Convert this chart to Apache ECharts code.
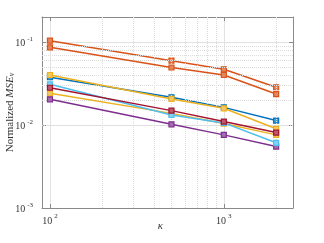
<!DOCTYPE html>
<html>
<head>
<meta charset="utf-8">
<script src="https://cdn.jsdelivr.net/npm/echarts@6/dist/echarts.min.js"></script>
<style>html,body{margin:0;padding:0;background:#fff;}#c{width:324px;height:243px;}</style>
</head>
<body>
<div id="c"></div>
<script>
// ---- data ----
var kappa = [100, 500, 1000, 2000];
var seriesNames = ['blue', 'orange1', 'orange2', 'yellow1', 'yellow2', 'purple', 'lightblue', 'darkred'];
var seriesColors = ['#0072BD', '#D95319', '#D95319', '#EDB120', '#EDB120', '#7E2F8E', '#4DBEEE', '#A2142F'];
var blue      = [0.0376, 0.0216, 0.0163, 0.0113];
var orange1   = [0.1036, 0.0595, 0.0469, 0.0285];
var orange2   = [0.0863, 0.0493, 0.0400, 0.0236];
var yellow1   = [0.0400, 0.0206, 0.0159, 0.0090];
var yellow2   = [0.0241, 0.0138, 0.0104, 0.0076];
var purple    = [0.0204, 0.0102, 0.0076, 0.0055];
var lightblue = [0.0309, 0.0132, 0.0106, 0.0061];
var darkred   = [0.0281, 0.0149, 0.0110, 0.0081];
var seriesValues = [blue, orange1, orange2, yellow1, yellow2, purple, lightblue, darkred];
var xMajorTicks = [100, 1000];
var yMajorTicks = [0.001, 0.01, 0.1];
var xMinorGrid = [200, 300, 400, 500, 600, 700, 800, 900, 2000];
var yMinorGrid = [0.002, 0.003, 0.004, 0.005, 0.006, 0.007, 0.008, 0.009,
                  0.02, 0.03, 0.04, 0.05, 0.06, 0.07, 0.08, 0.09];
var xRange = [90, 2500];
var yRange = [0.001, 0.2];

// ---- chart ----
var serif = 'Liberation Serif';
var axisColor = '#8a8a8a';
function expLabel(v) {
  var e = Math.round(Math.log10(v));
  return '{b|10}{s|' + (e < 0 ? '-' : '') + Math.abs(e) + '}';
}
var labelRich = {
  b: {fontFamily: serif, fontSize: 10, color: '#333', lineHeight: 13, verticalAlign: 'bottom'},
  s: {fontFamily: serif, fontSize: 7, color: '#333', lineHeight: 13, verticalAlign: 'top', padding: [0, 0, 0, 2]}
};
function isMajor(list, v) {
  for (var i = 0; i < list.length; i++) if (Math.abs(v / list[i] - 1) < 1e-6) return true;
  return false;
}
function baseX(show) {
  return {
    type: 'log', logBase: 10, min: xRange[0], max: xRange[1],
    axisLine: {show: true, lineStyle: {color: axisColor, width: 1}},
    axisTick: {show: true, inside: true, length: 4, lineStyle: {color: axisColor}},
    axisLabel: {show: show, showMinLabel: false, showMaxLabel: false, margin: 5,
      formatter: function (v) { return isMajor(xMajorTicks, v) ? expLabel(v) : ''; }, rich: labelRich},
    splitLine: {show: show, lineStyle: {color: '#e3e3e3', width: 1}},
    minorTick: {show: false}
  };
}
function baseY(show) {
  return {
    type: 'log', logBase: 10, min: yRange[0], max: yRange[1],
    axisLine: {show: true, lineStyle: {color: axisColor, width: 1}},
    axisTick: {show: true, inside: true, length: 4, lineStyle: {color: axisColor}},
    axisLabel: {show: show, showMinLabel: true, showMaxLabel: false, margin: 9,
      formatter: function (v) { return isMajor(yMajorTicks, v) ? expLabel(v) : ''; }, rich: labelRich},
    splitLine: {show: show, lineStyle: {color: '#e3e3e3', width: 1}}
  };
}
var xBottom = baseX(true);
xBottom.position = 'bottom';
xBottom.name = 'κ';
xBottom.nameLocation = 'middle';
xBottom.nameGap = 13;
xBottom.nameMoveOverlap = false;
xBottom.nameTextStyle = {fontFamily: serif, fontSize: 11, fontStyle: 'italic', color: '#333', padding: [0, 14, 0, 0]};
var xTop = baseX(false);
xTop.position = 'top';
var yLeft = baseY(true);
yLeft.position = 'left';
yLeft.name = '{n|Normalized }{i|MSE}{sub|ν}';
yLeft.nameLocation = 'middle';
yLeft.nameGap = 26;
yLeft.nameMoveOverlap = false;
yLeft.nameTextStyle = {
  rich: {
    n: {fontFamily: serif, fontSize: 11, color: '#333', lineHeight: 14, verticalAlign: 'bottom'},
    i: {fontFamily: serif, fontSize: 11, fontStyle: 'italic', color: '#333', lineHeight: 14, verticalAlign: 'bottom'},
    sub: {fontFamily: serif, fontSize: 8, fontStyle: 'italic', color: '#333', lineHeight: 11, verticalAlign: 'bottom'}
  }
};
var yRight = baseY(false);
yRight.position = 'right';

var minorLine = {type: 'dotted', color: '#dcdcdc', width: 1};
var gridMarks = [];
xMinorGrid.forEach(function (v) { gridMarks.push({xAxis: v}); });
yMinorGrid.forEach(function (v) { gridMarks.push({yAxis: v}); });

var series = [{
  type: 'line', data: [], xAxisIndex: 0, yAxisIndex: 0, silent: true, z: 1,
  markLine: {silent: true, symbol: ['none', 'none'], label: {show: false},
    lineStyle: minorLine, emphasis: {disabled: true}, animation: false, data: gridMarks}
}];
seriesValues.forEach(function (vals, i) {
  var c = seriesColors[i];
  series.push({
    name: seriesNames[i], type: 'line', xAxisIndex: 0, yAxisIndex: 0, z: 3 + i,
    data: kappa.map(function (k, j) { return [k, vals[j]]; }),
    symbol: 'rect', symbolSize: 5, showSymbol: true,
    lineStyle: {color: c, width: 1.5},
    itemStyle: {color: echarts.color.lift(c, 0.3), borderColor: c, borderWidth: 1.2},
    emphasis: {disabled: true}
  });
});

var chart = echarts.init(document.getElementById('c'), null, {renderer: 'canvas'});
chart.setOption({
  animation: false,
  backgroundColor: '#fff',
  grid: {left: 42, right: 31, top: 17, bottom: 35, containLabel: false, outerBoundsMode: 'none'},
  xAxis: [xBottom, xTop],
  yAxis: [yLeft, yRight],
  series: series
});
</script>
</body>
</html>
